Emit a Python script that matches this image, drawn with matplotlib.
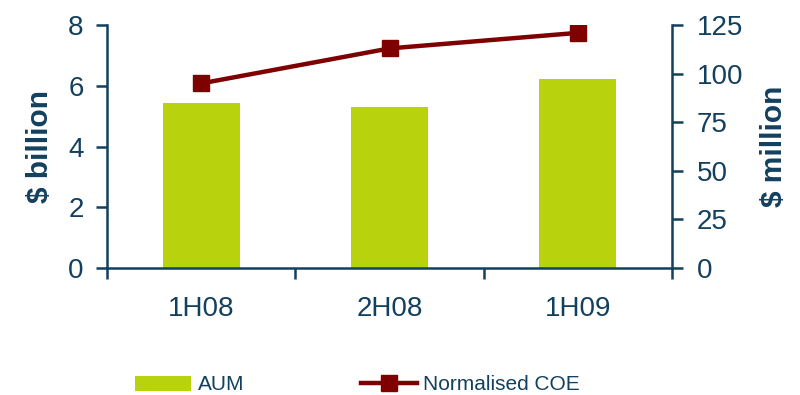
import numpy as np
import matplotlib.pyplot as plt
import matplotlib

matplotlib.rcParams['font.family'] = ['Liberation Sans', 'DejaVu Sans']

# 数据
periods = ['1H08', '2H08', '1H09']
aum = [5.45, 5.3, 6.22]          # $ billion
coe = [95, 113, 121]             # $ million

txt_col = '#12405E'
bar_col = '#B8D30E'
line_col = '#7F0000'

fig = plt.figure(figsize=(8, 3.95), dpi=100)
ax = fig.add_axes([0.134, 0.3215, 0.706, 0.615])
ax2 = ax.twinx()

x = np.arange(len(periods))
ax.bar(x, aum, width=0.41, color=bar_col, label='AUM', zorder=2)
ax2.plot(x, coe, color=line_col, lw=3.2, marker='s', markersize=12,
         label='Normalised COE', zorder=3)

ax.set_xlim(-0.5, 2.5)
ax.set_ylim(0, 8)
ax.set_yticks([0, 2, 4, 6, 8])
ax2.set_ylim(0, 125)
ax2.set_yticks([0, 25, 50, 75, 100, 125])

# 类别标签放中间，刻度线放在边界
ax.set_xticks(x)
ax.set_xticklabels(periods)
ax.set_xticks(np.arange(-0.5, 3, 1), minor=True)
ax.tick_params(axis='x', which='major', length=0, pad=20, labelsize=20, colors=txt_col)
ax.tick_params(axis='x', which='minor', length=8, width=1.8, color=txt_col, direction='out')
ax.tick_params(axis='y', length=8, width=1.8, pad=9, labelsize=20, colors=txt_col, direction='out')
ax2.tick_params(axis='y', length=8, width=1.8, pad=10, labelsize=20, colors=txt_col, direction='out')

for a in (ax, ax2):
    a.spines['top'].set_visible(False)
    for s in ('left', 'right', 'bottom'):
        a.spines[s].set_color(txt_col)
        a.spines[s].set_linewidth(1.8)
ax.spines['right'].set_visible(False)
ax2.spines['left'].set_visible(False)
ax2.spines['bottom'].set_visible(False)

ax.set_ylabel('$ billion', fontsize=21.5, fontweight='bold', color=txt_col, labelpad=10)
ax2.set_ylabel('$ million', fontsize=21.5, fontweight='bold', color=txt_col, labelpad=12,
               rotation=90)

h1, l1 = ax.get_legend_handles_labels()
h2, l2 = ax2.get_legend_handles_labels()
fig.legend(h1 + h2, l1 + l2, loc='center left', bbox_to_anchor=(135 / 800, 10 / 395),
           ncol=2, frameon=False, fontsize=15, handlelength=2.7, handletextpad=0.3,
           columnspacing=5.6, borderpad=0, borderaxespad=0, labelcolor=txt_col)

fig.savefig('out.png', dpi=100)
